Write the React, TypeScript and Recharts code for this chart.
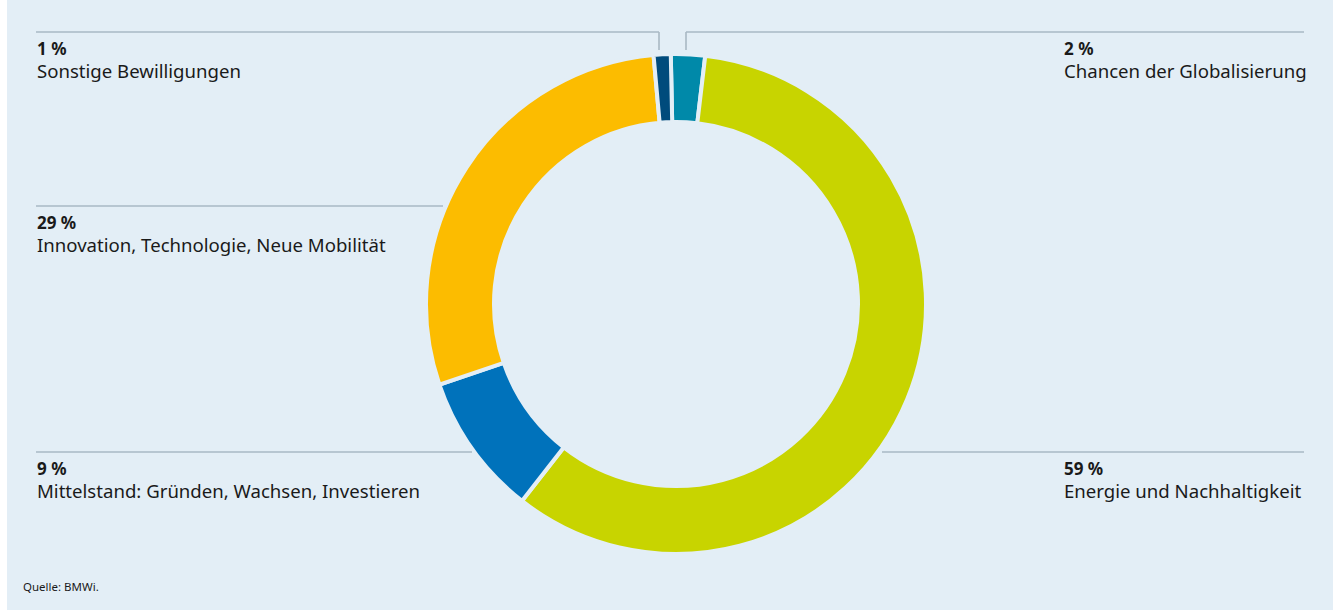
import React from "react";
import { PieChart, Pie, Cell } from "recharts";

const categories: string[] = [
  "Chancen der Globalisierung",
  "Energie und Nachhaltigkeit",
  "Mittelstand: Gründen, Wachsen, Investieren",
  "Innovation, Technologie, Neue Mobilität",
  "Sonstige Bewilligungen",
];
const shares: number[] = [2.2, 58.7, 9.2, 28.8, 1.1];
const shareLabels: string[] = ["2 %", "59 %", "9 %", "29 %", "1 %"];
const colors: string[] = ["#0089a9", "#c8d400", "#0072bb", "#fcbc00", "#004b7c"];

const BG = "#e3eef6";
const LINE = "#a9b8c4";
const TEXT = "#1a1a1a";
const FONT = "'Noto Sans', 'Open Sans', sans-serif";

// where each label sits (layout only)
interface LabelPos {
  lineY: number;
  x1: number;
  x2: number;
  textX: number;
  elbowX?: number;
}
const labelPos: LabelPos[] = [
  { lineY: 32, x1: 686, x2: 1304, textX: 1064, elbowX: 686 },
  { lineY: 452, x1: 882, x2: 1304, textX: 1064 },
  { lineY: 452, x1: 36, x2: 472, textX: 37 },
  { lineY: 206, x1: 36, x2: 443, textX: 37 },
  { lineY: 32, x1: 36, x2: 659, textX: 37, elbowX: 659 },
];

const pieData = categories.map((name, i) => ({ name, value: shares[i] }));

export default function App() {
  return (
    <div
      style={{
        position: "absolute",
        left: 0,
        top: 0,
        width: 1333,
        height: 610,
        background: "#ffffff",
        fontFamily: FONT,
      }}
    >
      <div
        style={{ position: "absolute", left: 7, top: 0, width: 1326, height: 610, background: BG }}
      />
      <div style={{ position: "absolute", left: 0, top: 0 }}>
        <PieChart width={1333} height={610} margin={{ top: 0, right: 0, bottom: 0, left: 0 }}>
          <Pie
            data={pieData}
            dataKey="value"
            nameKey="name"
            cx={676}
            cy={304}
            innerRadius={182}
            outerRadius={250}
            startAngle={91.2}
            endAngle={-268.8}
            stroke={BG}
            strokeWidth={4}
            isAnimationActive={false}
          >
            {pieData.map((d, i) => (
              <Cell key={d.name} fill={colors[i]} />
            ))}
          </Pie>
        </PieChart>
      </div>
      <svg
        width={1333}
        height={610}
        style={{ position: "absolute", left: 0, top: 0, pointerEvents: "none" }}
      >
        {labelPos.map((p, i) => (
          <g key={categories[i]}>
            <line x1={p.x1} x2={p.x2} y1={p.lineY} y2={p.lineY} stroke={LINE} strokeWidth={1.6} />
            {p.elbowX !== undefined && (
              <line x1={p.elbowX} x2={p.elbowX} y1={p.lineY} y2={50} stroke={LINE} strokeWidth={1.6} />
            )}
            <text x={p.textX} y={p.lineY + 23} fontSize={17} fontWeight={700} fill={TEXT} fontFamily={FONT}>
              {shareLabels[i]}
            </text>
            <text x={p.textX} y={p.lineY + 46} fontSize={18.6} fill={TEXT} fontFamily={FONT}>
              {categories[i]}
            </text>
          </g>
        ))}
        <text x={23} y={591} fontSize={11.5} fill={TEXT} fontFamily={FONT}>
          Quelle: BMWi.
        </text>
      </svg>
    </div>
  );
}
